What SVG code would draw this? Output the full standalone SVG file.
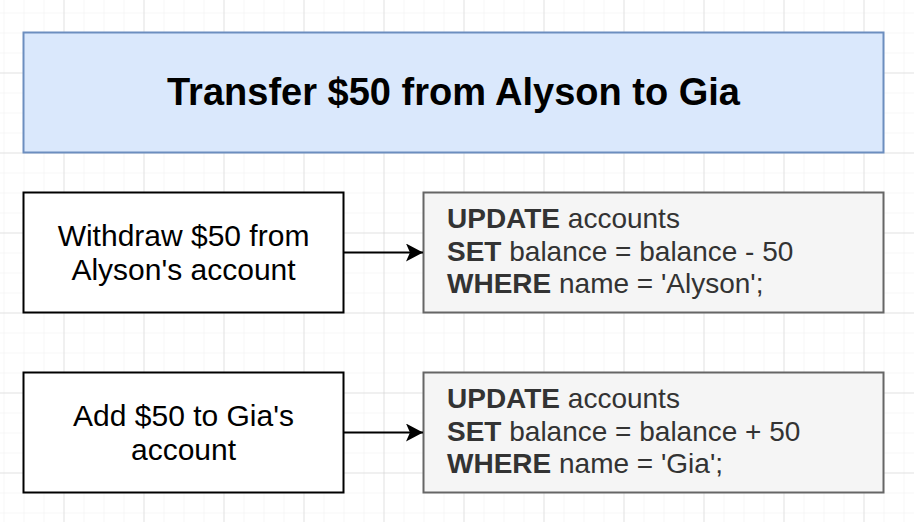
<svg xmlns="http://www.w3.org/2000/svg" width="914" height="522" viewBox="0 0 914 522">
<defs>
<pattern id="minor" x="3.5" y="12.5" width="20" height="20" patternUnits="userSpaceOnUse">
<path d="M0 0H20M0 0V20" fill="none" stroke="#f0f0f0" stroke-width="1"/>
</pattern>
<pattern id="major" x="63.5" y="72.5" width="80" height="80" patternUnits="userSpaceOnUse">
<path d="M0 0H80M0 0V80" fill="none" stroke="#d0d0d0" stroke-width="1"/>
</pattern>
<marker id="arrow" viewBox="0 0 17 18" refX="17" refY="9" markerWidth="17" markerHeight="18" markerUnits="userSpaceOnUse" orient="auto">
<path d="M0 0L17 9L0 18L4 9Z" fill="#000"/>
</marker>
</defs>
<style>
.step{fill:#ffffff;stroke:#000000;stroke-width:2}
.sql{fill:#f5f5f5;stroke:#666666;stroke-width:2}
.title{fill:#dae8fc;stroke:#6c8ebf;stroke-width:2}
.lbl{font-family:"Liberation Sans",Arial,sans-serif;font-size:30px;fill:#000;text-anchor:middle}
.code{font-family:"Liberation Sans",Arial,sans-serif;font-size:28px;fill:#333333}
.b{font-weight:bold}
.conn{stroke:#000;stroke-width:2;fill:none}
</style>
<rect width="914" height="522" fill="#ffffff"/>
<rect width="914" height="522" fill="url(#minor)"/>
<rect width="914" height="522" fill="url(#major)"/>
<g id="title">
<rect class="title" x="23.5" y="32.5" width="860" height="120"/>
<text x="453.5" y="105" font-family="&quot;Liberation Sans&quot;,Arial,sans-serif" font-size="38" font-weight="bold" text-anchor="middle" fill="#000">Transfer $50 from Alyson to Gia</text>
</g>
<g id="withdraw">
<rect class="step" x="23.5" y="192.5" width="320" height="120"/>
<text class="lbl" x="183.5" y="246">Withdraw $50 from</text>
<text class="lbl" x="183.5" y="280">Alyson's account</text>
</g>
<g id="sql-withdraw">
<rect class="sql" x="423.5" y="192.5" width="460" height="120"/>
<text class="code" x="447" y="228"><tspan class="b">UPDATE</tspan> accounts</text>
<text class="code" x="447" y="261"><tspan class="b">SET</tspan> balance = balance - 50</text>
<text class="code" x="447" y="293"><tspan class="b">WHERE</tspan> name = 'Alyson';</text>
</g>
<g id="add">
<rect class="step" x="23.5" y="372.5" width="320" height="120"/>
<text class="lbl" x="183.5" y="426">Add $50 to Gia's</text>
<text class="lbl" x="183.5" y="460">account</text>
</g>
<g id="sql-add">
<rect class="sql" x="423.5" y="372.5" width="460" height="120"/>
<text class="code" x="447" y="408"><tspan class="b">UPDATE</tspan> accounts</text>
<text class="code" x="447" y="441"><tspan class="b">SET</tspan> balance = balance + 50</text>
<text class="code" x="447" y="473"><tspan class="b">WHERE</tspan> name = 'Gia';</text>
</g>
<g id="connectors">
<line class="conn" x1="343.5" y1="252.5" x2="423" y2="252.5" marker-end="url(#arrow)"/>
<line class="conn" x1="343.5" y1="432.5" x2="423" y2="432.5" marker-end="url(#arrow)"/>
</g>
</svg>
